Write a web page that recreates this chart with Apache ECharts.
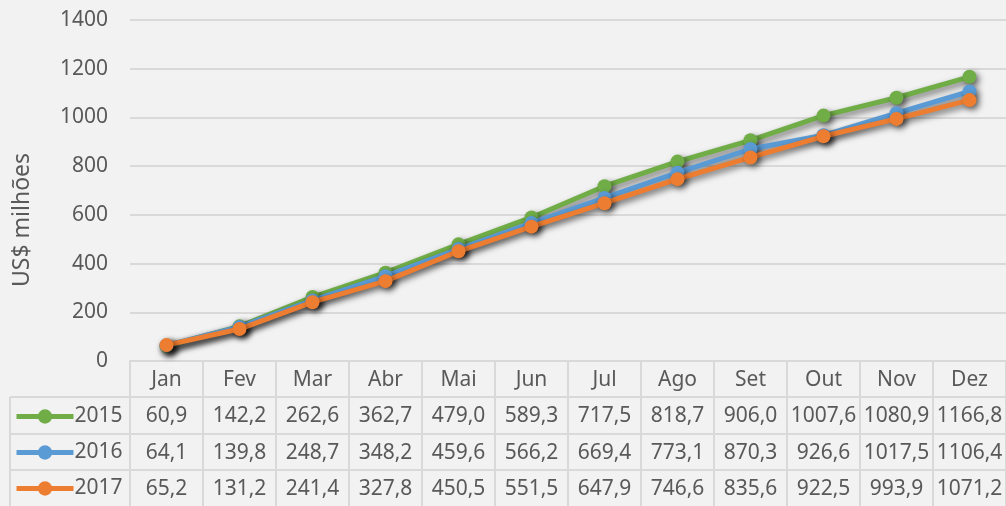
<!DOCTYPE html>
<html>
<head>
<meta charset="utf-8">
<script src="https://cdn.jsdelivr.net/npm/echarts@6/dist/echarts.min.js"></script>
<style>
  html, body { margin: 0; padding: 0; background: #f2f2f2; }
  #main { width: 1006px; height: 506px; }
</style>
</head>
<body>
<div id="main"></div>
<script>
const months = ["Jan", "Fev", "Mar", "Abr", "Mai", "Jun", "Jul", "Ago", "Set", "Out", "Nov", "Dez"];
const years = ["2015", "2016", "2017"];
const v2015 = [60.9, 142.2, 262.6, 362.7, 479.0, 589.3, 717.5, 818.7, 906.0, 1007.6, 1080.9, 1166.8];
const v2016 = [64.1, 139.8, 248.7, 348.2, 459.6, 566.2, 669.4, 773.1, 870.3, 926.6, 1017.5, 1106.4];
const v2017 = [65.2, 131.2, 241.4, 327.8, 450.5, 551.5, 647.9, 746.6, 835.6, 922.5, 993.9, 1071.2];
const colors = ["#70ad47", "#5b9bd5", "#ed7d31"];

const textColor = "#595959";
const lineColor = "#d9d9d9";
const fontFamily = "'Noto Sans', sans-serif";
const fontSize = 21;

const fmt = (v) => v.toFixed(1).replace(".", ",");

let chartDom = document.getElementById("main");
let chart = echarts.init(chartDom);

// one extra x axis per table row, pushed down with offset
function tableAxis(data, offset) {
  return {
    type: "category",
    position: "bottom",
    offset: offset,
    data: data,
    boundaryGap: true,
    axisLine: { show: true, lineStyle: { color: lineColor, width: 2 } },
    axisTick: { show: false },
    axisLabel: {
      interval: 0,
      margin: 19,
      verticalAlign: "middle",
      color: textColor,
      fontSize: fontSize,
      fontFamily: fontFamily,
    },
  };
}

const seriesData = [v2015, v2016, v2017].map((vals, i) => {
  return {
    name: years[i],
    type: "line",
    data: vals,
    xAxisIndex: 0,
    symbol: "circle",
    symbolSize: 14,
    z: 3 + i,
    lineStyle: {
      width: 5,
      color: colors[i],
      shadowColor: "rgba(0,0,0,0.55)",
      shadowBlur: 6,
      shadowOffsetX: 3,
      shadowOffsetY: 3,
    },
    itemStyle: {
      color: colors[i],
      shadowColor: "rgba(0,0,0,0.55)",
      shadowBlur: 6,
      shadowOffsetX: 3,
      shadowOffsetY: 3,
    },
    emphasis: { disabled: true },
  };
});

// a single-item legend for each table row
const rowCenters = [416, 452, 488];
const legends = years.map((y, i) => {
  return {
    orient: "horizontal",
    left: 14,
    top: rowCenters[i] - 10,
    padding: 0,
    itemWidth: 57,
    itemHeight: 18,
    itemGap: 0,
    data: [y],
    selectedMode: false,
    lineStyle: { width: 5, shadowBlur: 0, shadowOffsetX: 0, shadowOffsetY: 0 },
    itemStyle: { shadowBlur: 0, shadowOffsetX: 0, shadowOffsetY: 0 },
    textStyle: { color: textColor, fontSize: fontSize, fontFamily: fontFamily, padding: [0, 0, 0, -4] },
  };
});

let mainAxis = tableAxis(months, 0);
mainAxis.axisTick = {
  show: true,
  interval: 0,
  length: 145,
  lineStyle: { color: lineColor, width: 2 },
};

let option = {
  backgroundColor: "#f2f2f2",
  animation: false,
  grid: { left: 130, right: 0, top: 20, bottom: 145 },
  legend: legends,
  xAxis: [
    mainAxis,
    tableAxis(v2015.map(fmt), 36),
    tableAxis(v2016.map(fmt), 73),
    tableAxis(v2017.map(fmt), 109),
  ],
  yAxis: {
    type: "value",
    min: 0,
    max: 1400,
    interval: 200,
    axisLine: { show: false },
    axisTick: { show: false },
    splitLine: { lineStyle: { color: lineColor, width: 2 } },
    axisLabel: {
      margin: 22,
      color: textColor,
      fontSize: fontSize,
      fontFamily: fontFamily,
      formatter: (v) => String(v),
    },
  },
  graphic: [
    {
      type: "text",
      x: 22,
      y: 220,
      rotation: Math.PI / 2,
      style: {
        text: "US$ milhões",
        fill: textColor,
        fontSize: 23,
        fontFamily: fontFamily,
        align: "center",
        verticalAlign: "middle",
      },
    },
    // left (legend) column borders
    { type: "line", shape: { x1: 10, y1: 397, x2: 130, y2: 397 }, style: { stroke: lineColor, lineWidth: 2 } },
    { type: "line", shape: { x1: 10, y1: 434, x2: 130, y2: 434 }, style: { stroke: lineColor, lineWidth: 2 } },
    { type: "line", shape: { x1: 10, y1: 470, x2: 130, y2: 470 }, style: { stroke: lineColor, lineWidth: 2 } },
    { type: "line", shape: { x1: 10, y1: 397, x2: 10, y2: 506 }, style: { stroke: lineColor, lineWidth: 2 } },
  ],
  series: seriesData,
};

option && chart.setOption(option);
</script>
</body>
</html>
